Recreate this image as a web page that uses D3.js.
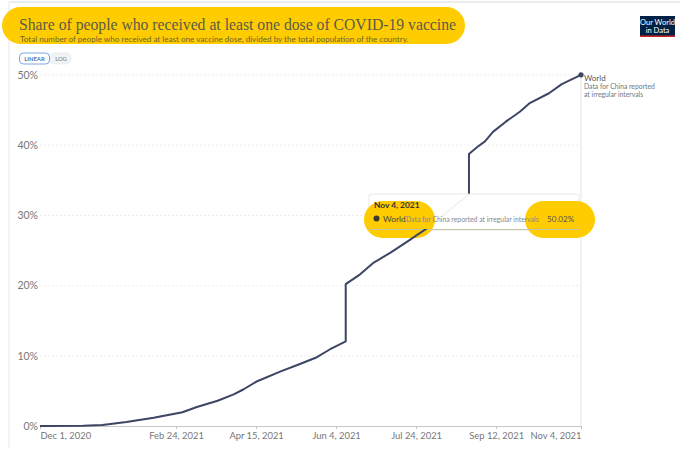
<!DOCTYPE html>
<html>
<head>
<meta charset="utf-8">
<script src="https://cdn.jsdelivr.net/npm/d3@7"></script>
<style>
  html, body { margin: 0; padding: 0; background: #fff; }
  svg { display: block; }
  text { font-family: Lato, "Open Sans", sans-serif; }
</style>
</head>
<body>
<div id="chart"></div>
<script>
// Chart data
var dates = ["2020-12-01", "2020-12-28", "2021-01-09", "2021-01-24", "2021-02-10", "2021-02-28",
    "2021-03-09", "2021-03-22", "2021-04-01", "2021-04-07", "2021-04-15", "2021-04-30", "2021-05-12",
    "2021-05-23", "2021-05-31", "2021-06-10", "2021-06-10", "2021-06-19", "2021-06-27", "2021-07-08",
    "2021-07-18", "2021-07-30", "2021-08-26", "2021-08-26", "2021-08-31", "2021-09-05", "2021-09-10",
    "2021-09-18", "2021-09-27", "2021-10-03", "2021-10-15", "2021-10-23", "2021-11-04"];
var shares = [0, 0.02, 0.14, 0.57, 1.18, 1.95,
    2.7, 3.6, 4.5, 5.2, 6.3, 7.75, 8.8,
    9.8, 10.9, 12.05, 20.2, 21.6, 23.2, 24.7,
    26.2, 28.05, 33, 38.75, 39.7, 40.55, 41.9,
    43.35, 44.8, 46, 47.4, 48.7, 50.02];
var xTicks = ["2020-12-01", "2021-02-24", "2021-04-15", "2021-06-04", "2021-07-24", "2021-09-12", "2021-11-04"];
var yTicks = [0, 10, 20, 30, 40, 50];

var width = 680;
var height = 462;
var yellow = "#ffcc00";
var lineColor = "#3c4563";

var parseDate = d3.timeParse("%Y-%m-%d");
var points = dates.map(function(d, i) { return { date: parseDate(d), value: shares[i] }; });

var x = d3.scaleTime()
    .domain([parseDate("2020-12-01"), parseDate("2021-11-04")])
    .range([40, 581]);
var y = d3.scaleLinear()
    .domain([0, 50])
    .range([426, 75]);

var svg = d3.select("#chart")
    .append("svg")
    .attr("width", width)
    .attr("height", height);

// Faint edge of the screenshot
svg.append("line").attr("x1", 9).attr("x2", 680).attr("y1", 2).attr("y2", 2)
    .style("stroke", "#e6e6ea").style("stroke-width", 1.5);
svg.append("line").attr("x1", 9).attr("x2", 9).attr("y1", 2).attr("y2", 448)
    .style("stroke", "#f0f0f2").style("stroke-width", 1.5);

// Title with its highlight
svg.append("rect").attr("x", 2).attr("y", 7).attr("width", 463).attr("height", 37).attr("rx", 18.5)
    .style("fill", yellow);
svg.append("text").attr("x", 19).attr("y", 30)
    .attr("textLength", 437)
    .attr("lengthAdjust", "spacingAndGlyphs")
    .style("font-family", "'Liberation Serif', serif")
    .style("font-size", "17.5px")
    .style("fill", "#5b5b4a")
    .text("Share of people who received at least one dose of COVID-19 vaccine");
svg.append("text").attr("x", 20).attr("y", 41.5)
    .style("font-size", "8.1px")
    .style("fill", "#6b6534")
    .text("Total number of people who received at least one vaccine dose, divided by the total population of the country.");

// Logo
svg.append("rect").attr("x", 640).attr("y", 16).attr("width", 35).attr("height", 21).style("fill", "#002147");
svg.append("rect").attr("x", 640).attr("y", 35.5).attr("width", 35).attr("height", 1.5).style("fill", "#ce261e");
svg.append("text").attr("x", 657.5).attr("y", 24.5).attr("text-anchor", "middle")
    .style("font-size", "7.5px").style("fill", "#fff").text("Our World");
svg.append("text").attr("x", 657.5).attr("y", 32.5).attr("text-anchor", "middle")
    .style("font-size", "7.5px").style("fill", "#fff").text("in Data");

// Linear / log switch
svg.append("rect").attr("x", 50).attr("y", 53).attr("width", 21).attr("height", 11).attr("rx", 5)
    .style("fill", "#f2f3f5").style("stroke", "#e4e6ea").style("stroke-width", 0.7);
svg.append("rect").attr("x", 19.5).attr("y", 53).attr("width", 30).attr("height", 11).attr("rx", 4)
    .style("fill", "#fff").style("stroke", "#5b8fd0").style("stroke-width", 0.8);
svg.append("text").attr("x", 34.5).attr("y", 61).attr("text-anchor", "middle")
    .style("font-size", "5.8px").style("font-weight", "700").style("fill", "#4a78b0").text("LINEAR");
svg.append("text").attr("x", 61).attr("y", 61).attr("text-anchor", "middle")
    .style("font-size", "5.8px").style("fill", "#6e7480").text("LOG");

// Y axis and dashed grid lines
var yAxis = svg.append("g")
    .attr("transform", "translate(40,0)")
    .call(d3.axisLeft(y).tickValues(yTicks).tickSize(0).tickPadding(2).tickFormat(function(d) { return d + "%"; }));
yAxis.select(".domain").remove();
yAxis.selectAll("text").style("font-size", "10.5px").style("fill", "#777").style("font-family", "Lato");

svg.append("g").selectAll("line")
    .data(yTicks.filter(function(d) { return d > 0; }))
    .enter()
    .append("line")
    .attr("x1", 40)
    .attr("x2", 581)
    .attr("y1", function(d) { return y(d); })
    .attr("y2", function(d) { return y(d); })
    .style("stroke", "#e8e8e8")
    .style("stroke-width", 0.8)
    .style("stroke-dasharray", "2,2");

// Hover guide at the last date
svg.append("line")
    .attr("x1", x.range()[1]).attr("x2", x.range()[1])
    .attr("y1", y(50)).attr("y2", y(0))
    .style("stroke", "#e3e3e8");

// X axis
var xAxis = svg.append("g")
    .attr("transform", "translate(0,426)")
    .call(d3.axisBottom(x)
        .tickValues(xTicks.map(parseDate))
        .tickSize(3)
        .tickSizeOuter(0)
        .tickPadding(3)
        .tickFormat(d3.timeFormat("%b %-d, %Y")));
xAxis.select(".domain").style("stroke", "#c8c8cc");
xAxis.selectAll("line").style("stroke", "#c0c0c4");
xAxis.selectAll("text").style("font-size", "9.4px").style("fill", "#777").style("font-family", "Lato");
xAxis.selectAll("text").attr("text-anchor", function(d, i) {
    if (i === 0) return "start";
    if (i === xTicks.length - 1) return "end";
    return "middle";
});

// The line
var line = d3.line()
    .x(function(d) { return x(d.date); })
    .y(function(d) { return y(d.value); });

svg.append("path")
    .datum(points)
    .attr("d", line)
    .style("fill", "none")
    .style("stroke", lineColor)
    .style("stroke-width", 2)
    .style("stroke-linejoin", "round");

svg.append("circle")
    .attr("cx", x(points[points.length - 1].date))
    .attr("cy", y(points[points.length - 1].value))
    .attr("r", 2.6)
    .style("fill", lineColor);

// End label
svg.append("text").attr("x", 584).attr("y", 81).style("font-size", "8px").style("fill", "#555").text("World");
svg.append("text").attr("x", 584).attr("y", 89).style("font-size", "6.8px").style("fill", "#777").text("Data for China reported");
svg.append("text").attr("x", 584).attr("y", 97).style("font-size", "6.8px").style("fill", "#777").text("at irregular intervals");

// Tooltip box sits over the line
svg.append("rect").attr("x", 369).attr("y", 194).attr("width", 210).attr("height", 36).attr("rx", 2)
    .style("fill", "#fff").style("fill-opacity", 0.94).style("stroke", "#e2e2e2").style("stroke-width", 0.8);

// Tooltip highlights
svg.append("rect").attr("x", 364).attr("y", 201).attr("width", 71).attr("height", 37).attr("rx", 18.5).style("fill", yellow);
svg.append("rect").attr("x", 525).attr("y", 201).attr("width", 70).attr("height", 37).attr("rx", 18.5).style("fill", yellow);

// Bottom edge of the tooltip runs across the highlights
svg.append("line").attr("x1", 369).attr("x2", 579).attr("y1", 229.5).attr("y2", 229.5)
    .style("stroke", "#c8c4a8");

// Part of the line below the tooltip shows on top of the highlight
svg.append("clipPath").attr("id", "below-tooltip")
    .append("rect").attr("x", 364).attr("y", 229).attr("width", 71).attr("height", 9);
svg.append("path")
    .datum(points)
    .attr("d", line)
    .attr("clip-path", "url(#below-tooltip)")
    .style("fill", "none")
    .style("stroke", lineColor)
    .style("stroke-width", 2);

// Tooltip text
svg.append("text").attr("x", 374).attr("y", 208).style("font-size", "8.4px").style("font-weight", "700").style("fill", "#333").text("Nov 4, 2021");
svg.append("circle").attr("cx", 376.5).attr("cy", 218.5).attr("r", 3).style("fill", "#3a3a30");
svg.append("text").attr("x", 383).attr("y", 221.5).style("font-size", "8.4px").style("fill", "#444").text("World");
svg.append("text").attr("x", 406).attr("y", 221.5).style("font-size", "6.85px").style("fill", "#888").text("Data for China reported at irregular intervals");
svg.append("text").attr("x", 547).attr("y", 221.5).style("font-size", "8.1px").style("fill", "#555").text("50.02%");
</script>
</body>
</html>
